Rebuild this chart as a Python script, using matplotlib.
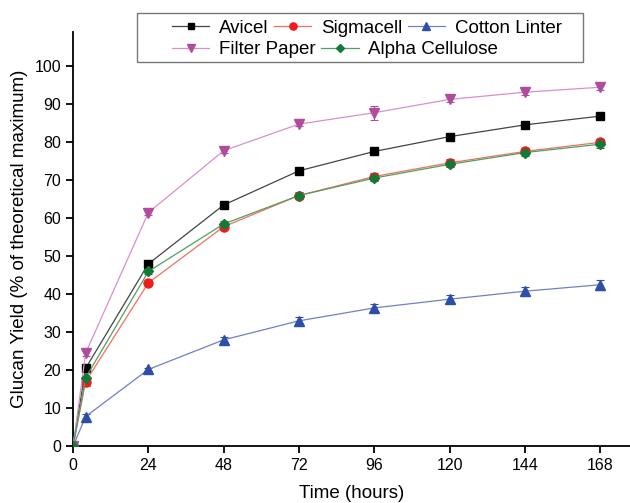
import numpy as np
import matplotlib.pyplot as plt
from matplotlib.patches import Rectangle

plt.rcParams['font.family'] = ['Liberation Sans', 'DejaVu Sans']

### Data
time = [0, 4, 24, 48, 72, 96, 120, 144, 168]

avicel = [0, 20.5, 48.0, 63.5, 72.5, 77.6, 81.5, 84.6, 86.9]
avicel_err = [0, 0.6, 0.6, 0.6, 0.7, 0.6, 0.7, 0.7, 0.6]

sigmacell = [0, 17.0, 43.0, 57.8, 66.0, 71.0, 74.6, 77.6, 80.0]
sigmacell_err = [0, 1.2, 0.6, 0.7, 0.8, 0.8, 0.9, 1.0, 1.0]

cotton = [0, 7.8, 20.2, 28.0, 33.0, 36.4, 38.7, 40.8, 42.5]
cotton_err = [0, 0.6, 0.5, 0.7, 0.9, 1.1, 1.0, 1.2, 1.3]

filter_paper = [0, 24.5, 61.5, 77.8, 84.8, 87.8, 91.3, 93.2, 94.5]
filter_err = [0, 0.8, 0.7, 0.6, 0.6, 1.8, 0.7, 0.7, 0.8]

alpha = [0, 18.0, 46.0, 58.5, 66.0, 70.6, 74.2, 77.3, 79.5]
alpha_err = [0, 1.8, 0.8, 0.8, 0.7, 0.7, 0.7, 0.8, 0.9]

series = [
    ("Avicel", avicel, avicel_err, 's', 6, 'black', '#444444'),
    ("Sigmacell", sigmacell, sigmacell_err, 'o', 6.5, '#ee1c1c', '#f07060'),
    ("Cotton Linter", cotton, cotton_err, '^', 7, '#2f4ea8', '#7080c8'),
    ("Filter Paper", filter_paper, filter_err, 'v', 7, '#b04c9c', '#d890cc'),
    ("Alpha Cellulose", alpha, alpha_err, 'D', 5.5, '#127a36', '#50a060'),
]

fig = plt.figure(figsize=(6.3, 5.03), dpi=100)
ax = fig.add_axes([0.116, 0.113, 0.884, 0.823])

handles = {}
for name, y, err, mk, ms, mcol, lcol in series:
    ax.errorbar(time, y, yerr=err, fmt='none', ecolor=mcol, elinewidth=0.8,
                capsize=3, capthick=0.8, zorder=2)
    h, = ax.plot(time, y, color=lcol, lw=0.9, marker=mk, markersize=ms,
                 markerfacecolor=mcol, markeredgecolor=mcol, label=name, zorder=3)
    handles[name] = h

ax.set_xlim(0, 177.5)
ax.set_ylim(0, 109)
ax.set_xticks([0, 24, 48, 72, 96, 120, 144, 168])
ax.set_yticks(np.arange(0, 101, 10))

ax.spines['top'].set_visible(False)
ax.spines['right'].set_visible(False)
for s in ['left', 'bottom']:
    ax.spines[s].set_linewidth(1.3)
ax.tick_params(direction='out', length=5, width=1.3, labelsize=11.5)

ax.set_xlabel("Time (hours)", fontsize=13.5, labelpad=9)
ax.set_ylabel("Glucan Yield (% of theoretical maximum)", fontsize=13.5, labelpad=5)

### Legend: two rows with a shared frame
leg_kw = dict(frameon=False, fontsize=13.5, handlelength=2.0, handletextpad=0.5,
              columnspacing=0.3, borderpad=0, borderaxespad=0, markerscale=0.8,
              loc='center left')
row1 = ["Avicel", "Sigmacell", "Cotton Linter"]
row2 = ["Filter Paper", "Alpha Cellulose"]
leg1 = fig.legend([handles[n] for n in row1], row1, ncol=3,
                  bbox_to_anchor=(0.273, 0.944), **leg_kw)
leg2 = fig.legend([handles[n] for n in row2], row2, ncol=2,
                  bbox_to_anchor=(0.273, 0.901), **leg_kw)
fig.patches.append(Rectangle((0.2175, 0.8767), 0.708, 0.0974,
                             transform=fig.transFigure, fill=False,
                             edgecolor='#777777', lw=1.0))

fig.savefig("out.png", dpi=100)
